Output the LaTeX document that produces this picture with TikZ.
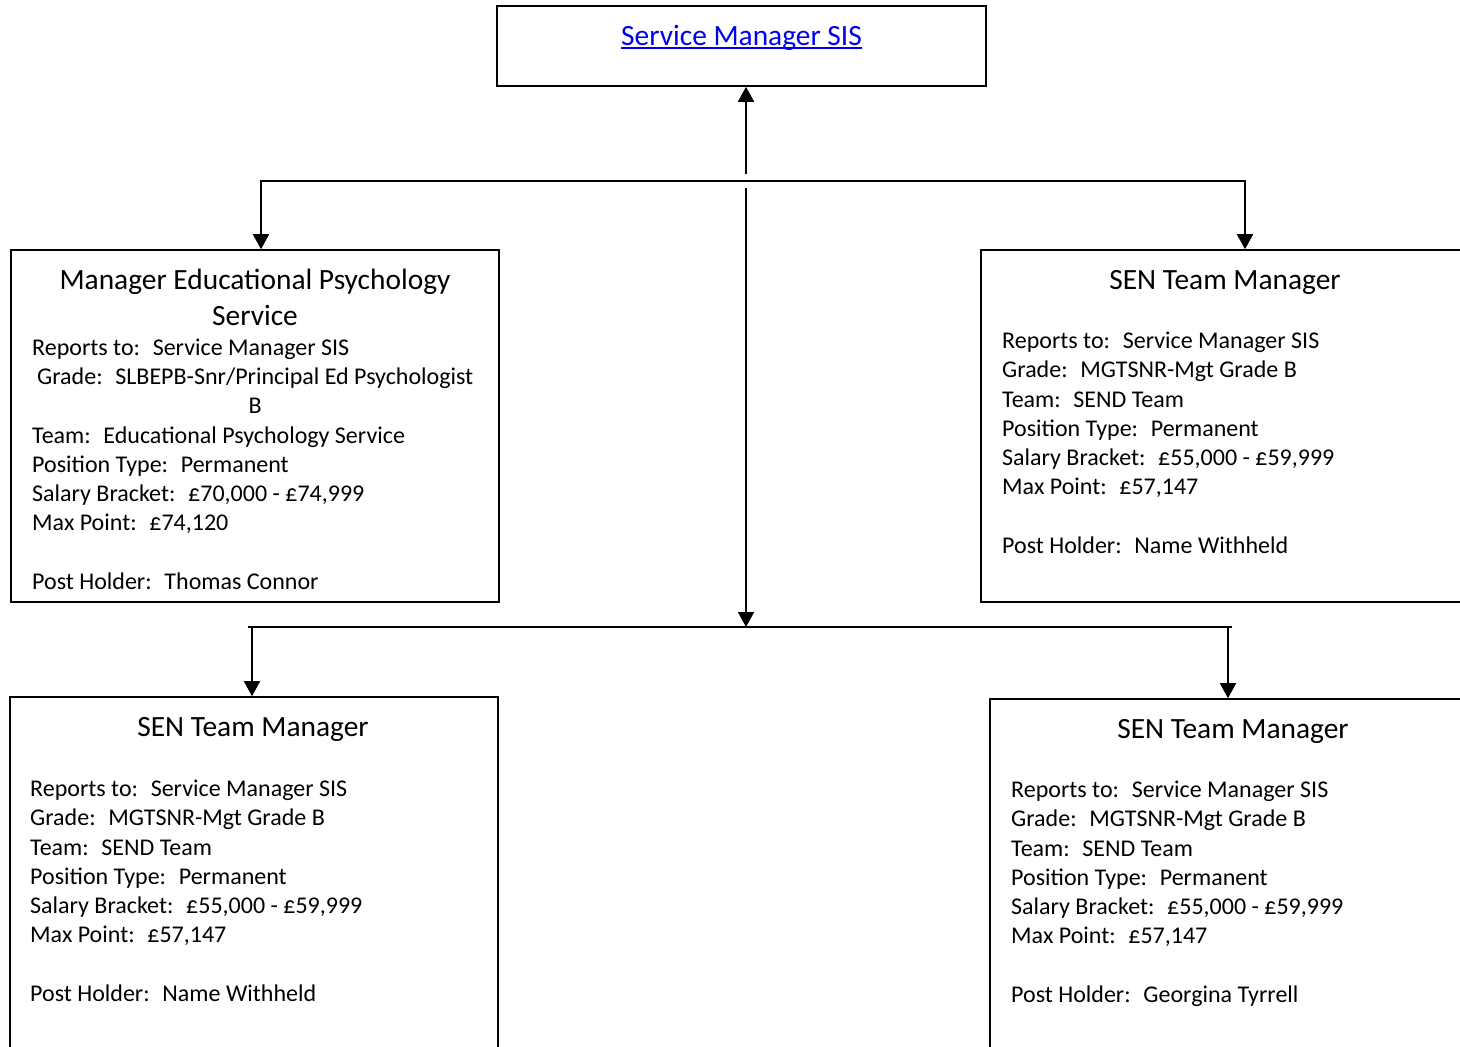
\documentclass[tikz,border=0pt]{standalone}
\usepackage{fontspec}
\setmainfont{Carlito}
\usepackage{tikz}
\usetikzlibrary{positioning,arrows.meta}

\definecolor{linkblue}{RGB}{0,0,238}

\tikzset{
  postbox/.style={rectangle, draw, line width=1.6pt, inner sep=0pt},
  titletext/.style={font=\fontsize{29.4}{36}\selectfont, align=center, inner sep=0pt, anchor=base},
  bodytext/.style={font=\fontsize{24}{29.3}\selectfont, align=left, inner sep=0pt, anchor=base west},
  link/.style={line width=1.6pt},
  linkarrow/.style={line width=1.6pt, -{Triangle[width=16pt,length=15pt]}}
}

\begin{document}
\begin{tikzpicture}[x=1pt, y=-1pt]
        \useasboundingbox (0,0) rectangle (1460,1047);
        \clip (0,0) rectangle (1460,1047);

        \node[postbox, minimum width=489pt, minimum height=80pt] (smSIS) at (741.5,46) {};
        \node[titletext, text=linkblue] (smSIStext) at (741.5,45) {Service Manager SIS};
        \draw[linkblue, line width=1.5pt] ([yshift=-3pt]smSIStext.base west) -- ([yshift=-3pt]smSIStext.base east);

        \node[postbox, minimum width=488pt, minimum height=352pt] (epMgr) at (255,426) {};
        \node[postbox, minimum width=499pt, minimum height=352pt] (senMgrA) at (1230.5,426) {};
        \node[postbox, minimum width=488pt, minimum height=373pt] (senMgrB) at (254,883.5) {};
        \node[postbox, minimum width=490pt, minimum height=371pt] (senMgrC) at (1235,884.5) {};

        % text nodes sit on the baseline of their last line
        \node[titletext] (epTitle) at (255,325) {Manager Educational Psychology\\Service};
        \node[bodytext] (epBody) at (32,589.5) {Reports to:~ Service Manager SIS\\
          \hspace*{5pt}Grade:~ SLBEPB-Snr/Principal Ed Psychologist\\
          \makebox[446pt]{B}\\
          Team:~ Educational Psychology Service\\
          Position Type:~ Permanent\\
          Salary Bracket:~ £70,000 - £74,999\\
          Max Point:~ £74,120\\[29.3pt]
          Post Holder:~ Thomas Connor};

        \node[titletext] (senTitleA) at (1225,289) {SEN Team Manager};
        \node[bodytext] (senBodyA) at (1002,553.5) {Reports to:~ Service Manager SIS\\
          Grade:~ MGTSNR-Mgt Grade B\\
          Team:~ SEND Team\\
          Position Type:~ Permanent\\
          Salary Bracket:~ £55,000 - £59,999\\
          Max Point:~ £57,147\\[29.3pt]
          Post Holder:~ Name Withheld};

        \node[titletext] (senTitleB) at (253,736) {SEN Team Manager};
        \node[bodytext] (senBodyB) at (30,1001.5) {Reports to:~ Service Manager SIS\\
          Grade:~ MGTSNR-Mgt Grade B\\
          Team:~ SEND Team\\
          Position Type:~ Permanent\\
          Salary Bracket:~ £55,000 - £59,999\\
          Max Point:~ £57,147\\[29.3pt]
          Post Holder:~ Name Withheld};

        \node[titletext] (senTitleC) at (1233,738) {SEN Team Manager};
        \node[bodytext] (senBodyC) at (1011,1002.5) {Reports to:~ Service Manager SIS\\
          Grade:~ MGTSNR-Mgt Grade B\\
          Team:~ SEND Team\\
          Position Type:~ Permanent\\
          Salary Bracket:~ £55,000 - £59,999\\
          Max Point:~ £57,147\\[29.3pt]
          Post Holder:~ Georgina Tyrrell};

        % reporting lines
        \coordinate (upStart) at (746,174);
        \coordinate (busTopL) at (261,181);
        \coordinate (busTopR) at (1245,181);
        \coordinate (downStart) at (746,188);
        \coordinate (busLowL) at (248,627);
        \coordinate (busLowR) at (1232,627);
        \coordinate (dropL) at (252,627);
        \coordinate (dropR) at (1228,627);

        \draw[linkarrow] (upStart) -- (upStart |- smSIS.south);
        \draw[linkarrow] (busTopR) -- (busTopL) -- (busTopL |- epMgr.north);
        \draw[linkarrow] (busTopL) -- (busTopR) -- (busTopR |- senMgrA.north);
        \draw[linkarrow] (downStart) -- (downStart |- busLowL);
        \draw[link] (busLowL) -- (busLowR);
        \draw[linkarrow] (dropL) -- (dropL |- senMgrB.north);
        \draw[linkarrow] (dropR) -- (dropR |- senMgrC.north);
\end{tikzpicture}
\end{document}
